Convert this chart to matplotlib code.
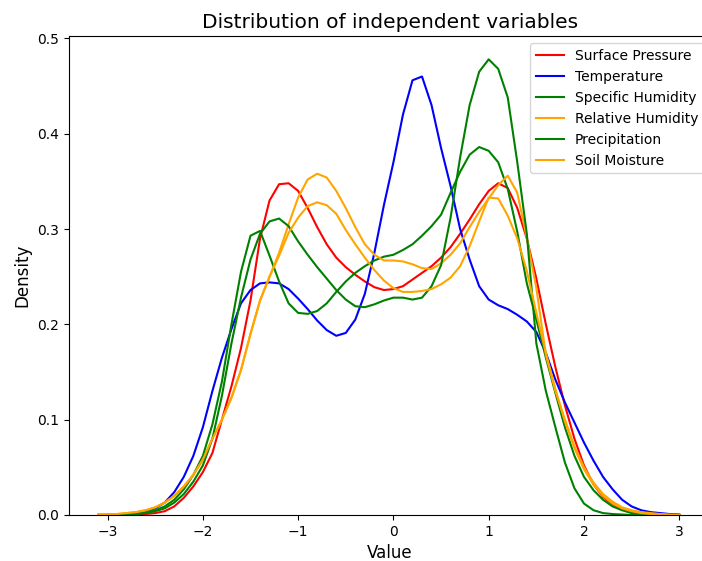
import numpy as np
import matplotlib
matplotlib.use("Agg")
import matplotlib.pyplot as plt

# x positions of the density estimates (-3.1 ... 3.0, step 0.1)
value = np.arange(-31, 31) / 10.

surface_pressure = [
    0, 0, 0, 0, 0.0005, 0.001, 0.002, 0.004, 0.009, 0.018,
    0.03, 0.045, 0.065, 0.10, 0.135, 0.175, 0.225, 0.29, 0.33, 0.347,
    0.348, 0.34, 0.322, 0.302, 0.284, 0.27, 0.26, 0.252, 0.245, 0.239,
    0.236, 0.237, 0.24, 0.247, 0.254, 0.261, 0.27, 0.281, 0.295, 0.31,
    0.326, 0.34, 0.348, 0.343, 0.322, 0.29, 0.248, 0.20, 0.155, 0.115,
    0.08, 0.052, 0.032, 0.019, 0.011, 0.006, 0.003, 0.001, 0.0005, 0,
    0, 0]

temperature = [
    0, 0, 0.0005, 0.001, 0.002, 0.004, 0.007, 0.013, 0.024, 0.04,
    0.062, 0.092, 0.13, 0.165, 0.195, 0.222, 0.236, 0.243, 0.244, 0.243,
    0.237, 0.227, 0.216, 0.204, 0.194, 0.188, 0.191, 0.205, 0.232, 0.275,
    0.325, 0.37, 0.42, 0.456, 0.46, 0.43, 0.385, 0.345, 0.30, 0.268,
    0.24, 0.226, 0.22, 0.216, 0.21, 0.203, 0.192, 0.17, 0.142, 0.118,
    0.097, 0.076, 0.057, 0.04, 0.027, 0.016, 0.009, 0.005, 0.003, 0.002,
    0.001, 0.0005]

specific_humidity = [
    0, 0, 0, 0.0005, 0.001, 0.003, 0.005, 0.009, 0.016, 0.027,
    0.042, 0.062, 0.095, 0.14, 0.20, 0.255, 0.293, 0.298, 0.272, 0.245,
    0.222, 0.212, 0.211, 0.214, 0.222, 0.234, 0.245, 0.254, 0.261, 0.267,
    0.271, 0.273, 0.278, 0.284, 0.293, 0.303, 0.315, 0.338, 0.36, 0.378,
    0.386, 0.382, 0.37, 0.342, 0.297, 0.243, 0.205, 0.165, 0.128, 0.092,
    0.062, 0.04, 0.026, 0.016, 0.009, 0.005, 0.002, 0.001, 0.0005, 0,
    0, 0]

relative_humidity = [
    0.0005, 0.001, 0.001, 0.002, 0.003, 0.005, 0.008, 0.013, 0.02, 0.03,
    0.042, 0.058, 0.08, 0.10, 0.123, 0.152, 0.19, 0.225, 0.25, 0.275,
    0.305, 0.333, 0.352, 0.358, 0.354, 0.34, 0.322, 0.302, 0.284, 0.273,
    0.267, 0.267, 0.266, 0.263, 0.259, 0.258, 0.264, 0.273, 0.285, 0.302,
    0.318, 0.332, 0.346, 0.356, 0.338, 0.291, 0.238, 0.168, 0.13, 0.10,
    0.072, 0.05, 0.034, 0.022, 0.014, 0.008, 0.005, 0.003, 0.002, 0.001,
    0.0005, 0]

precipitation = [
    0, 0, 0, 0.0005, 0.001, 0.002, 0.004, 0.007, 0.013, 0.022,
    0.035, 0.052, 0.08, 0.125, 0.18, 0.228, 0.268, 0.295, 0.308, 0.311,
    0.303, 0.287, 0.273, 0.26, 0.248, 0.236, 0.226, 0.219, 0.218, 0.221,
    0.225, 0.228, 0.228, 0.226, 0.228, 0.24, 0.262, 0.312, 0.375, 0.43,
    0.465, 0.478, 0.468, 0.438, 0.37, 0.295, 0.18, 0.13, 0.092, 0.055,
    0.028, 0.012, 0.005, 0.002, 0.001, 0.0005, 0, 0, 0, 0,
    0, 0]

soil_moisture = [
    0.0005, 0.001, 0.001, 0.002, 0.003, 0.005, 0.008, 0.013, 0.02, 0.03,
    0.042, 0.058, 0.08, 0.10, 0.123, 0.152, 0.19, 0.225, 0.25, 0.272,
    0.296, 0.312, 0.324, 0.328, 0.325, 0.316, 0.299, 0.284, 0.27, 0.257,
    0.246, 0.238, 0.234, 0.234, 0.235, 0.237, 0.242, 0.249, 0.261, 0.282,
    0.308, 0.333, 0.332, 0.314, 0.29, 0.256, 0.212, 0.17, 0.132, 0.098,
    0.07, 0.048, 0.032, 0.02, 0.012, 0.007, 0.004, 0.002, 0.001, 0.0005,
    0, 0]

labels = ['Surface Pressure', 'Temperature', 'Specific Humidity',
          'Relative Humidity', 'Precipitation', 'Soil Moisture']
colors = ['red', 'blue', 'green', 'orange', 'green', 'orange']
series = [surface_pressure, temperature, specific_humidity,
          relative_humidity, precipitation, soil_moisture]

fig = plt.figure(figsize=(7.02, 5.61), dpi=100)
# the original screenshot cuts off the right part of the axes
ax = fig.add_axes([0.0976, 0.082, 0.9148, 0.853])

for y, c, l in zip(series, colors, labels):
    ax.plot(value, y, color=c, lw=1.5, label=l)

ax.set_xlim(-3.41, 3.33)
ax.set_ylim(0, 0.502)
ax.set_xticks([-3, -2, -1, 0, 1, 2, 3])
ax.set_yticks([0.0, 0.1, 0.2, 0.3, 0.4, 0.5])
ax.set_xlabel('Value', fontsize=12)
ax.set_ylabel('Density', fontsize=12)
ax.set_title('Distribution of independent variables', fontsize=14.5)
ax.legend(loc='upper right')

fig.savefig('out.png', dpi=100)
